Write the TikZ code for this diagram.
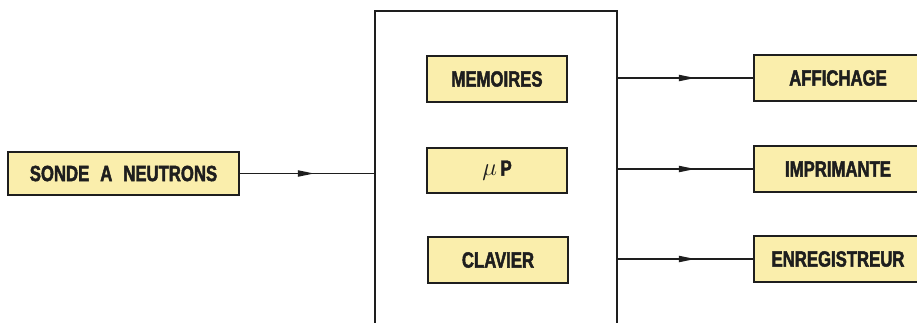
\documentclass[tikz,border=0pt]{standalone}
\usepackage{fontspec}
\usetikzlibrary{arrows.meta}
\newfontfamily\labfont[FakeStretch=0.76,FakeBold=2]{Liberation Sans}
\definecolor{boxyellow}{RGB}{250,238,172}
\definecolor{inkline}{RGB}{30,30,30}
\tikzset{
  unit/.style={draw=inkline, line width=1.8pt, fill=boxyellow, inner sep=0pt,
    font=\labfont\bfseries\fontsize{22}{24}\selectfont, text=inkline},
  frame/.style={draw=inkline, line width=1.4pt, inner sep=0pt},
  wire/.style={draw=inkline, line width=1.4pt},
  tiphead/.style={fill=inkline},
}
\newcommand{\headat}[1]{\fill[tiphead] (#1) -- ++(-16,-3.3) -- ++(0,6.6) -- cycle;}
\begin{document}
\begin{tikzpicture}[x=1pt,y=-1pt]
\useasboundingbox (0,0) rectangle (917,322);
\clip (0,0) rectangle (917,322);
\fill[white] (0,0) rectangle (917,322);
% big frame
\node[frame, minimum width=242pt, minimum height=329pt] (cpu) at (496,175.5) {};
% input
\node[unit, minimum width=231pt, minimum height=43pt] (sonde) at (123.5,173.5) {SONDE\enspace A\enspace NEUTRONS};
% inner units
\node[unit, minimum width=140pt, minimum height=46pt] (mem) at (497,79) {MEMOIRES};
\node[unit, minimum width=140pt, minimum height=45pt] (mup) at (497,170.5) {{\normalfont\itshape\fontsize{25}{25}\selectfont $\mu$}\,P};
\node[unit, minimum width=140pt, minimum height=46pt] (clav) at (498,260) {CLAVIER};
% outputs
\node[unit, minimum width=168pt, minimum height=46pt] (aff) at (838,78) {AFFICHAGE};
\node[unit, minimum width=168pt, minimum height=46pt] (imp) at (838,169) {IMPRIMANTE};
\node[unit, minimum width=168pt, minimum height=46pt] (enr) at (838,259) {ENREGISTREUR};
% connectors
\draw[wire] (sonde.east) -- (sonde.east -| cpu.west) coordinate[pos=0.55] (m0);
\draw[wire] (aff.west -| cpu.east) -- (aff.west) coordinate[pos=0.57] (m1);
\draw[wire] (imp.west -| cpu.east) -- (imp.west) coordinate[pos=0.57] (m2);
\draw[wire] (enr.west -| cpu.east) -- (enr.west) coordinate[pos=0.57] (m3);
\headat{m0}
\headat{m1}
\headat{m2}
\headat{m3}
\end{tikzpicture}
\end{document}
